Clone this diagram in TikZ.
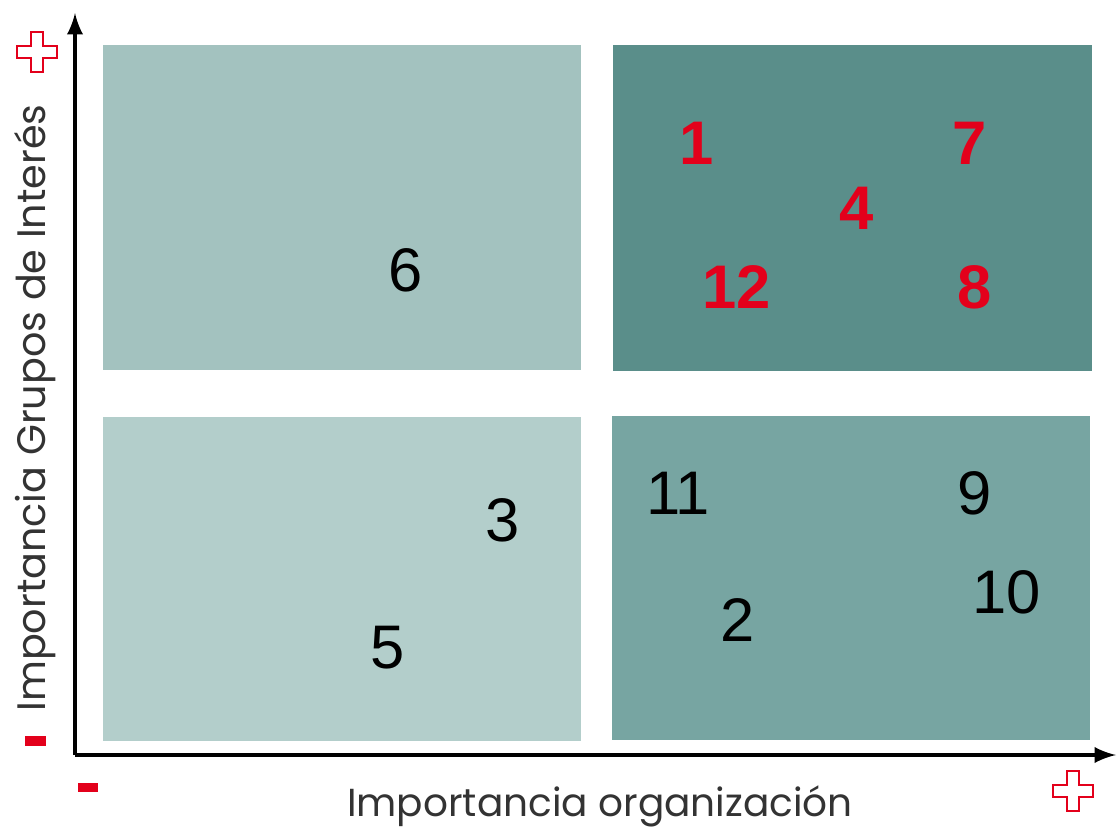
\documentclass[tikz,border=0pt]{standalone}
\usepackage{fontspec}
\setmainfont{Liberation Sans}
\newfontfamily\labelfont{Poppins}
\definecolor{quadA}{HTML}{A3C2BF}
\definecolor{quadB}{HTML}{5A8E8A}
\definecolor{quadC}{HTML}{B3CECB}
\definecolor{quadD}{HTML}{77A5A2}
\definecolor{hired}{HTML}{E3001B}
\begin{document}
\begin{tikzpicture}[x=0.01cm, y=-0.01cm,
    num/.style={font=\fontsize{17.5}{20}\selectfont, text=black},
    rednum/.style={font=\fontsize{17.5}{20}\selectfont\bfseries, text=hired},
    axislabel/.style={font=\labelfont\fontsize{11.1}{13}\selectfont, text=black!80},
    plussign/.style={draw=hired, fill=white, line width=0.8pt},
    minussign/.style={fill=hired, draw=none}]

            \useasboundingbox (0,0) rectangle (1117,833);

            % quadrants
            \fill[quadA] (103,45) rectangle (581,370);
            \fill[quadB] (613,45) rectangle (1092,371);
            \fill[quadC] (103,417) rectangle (581,741);
            \fill[quadD] (612,416) rectangle (1090,740);

            % axes
            \coordinate (o) at (75,755);
            \coordinate (ytip) at (75,13);
            \coordinate (xtip) at (1116,755);
            \draw[black, line width=1.1pt, -latex] (o) -- (ytip);
            \draw[black, line width=1.1pt, -latex] (o) -- (xtip);

            % top right
            \node[rednum] (n1) at (697,143) {1};
            \node[rednum] (n7) at (970,143) {7};
            \node[rednum] (n4) at (857,208) {4};
            \node[rednum] (n12) at (737,287) {12};
            \node[rednum] (n8) at (975,287) {8};

            % other quadrants
            \node[num] (n6) at (406,270) {6};
            \node[num] (n11) at (678,493) {11};
            \node[num] (n9) at (975,493) {9};
            \node[num] (n3) at (503,520) {3};
            \node[num] (n10) at (1007,592) {10};
            \node[num] (n2) at (738,620) {2};
            \node[num] (n5) at (388,648) {5};

            % axis labels
            \node[axislabel] (xlab) at (600,806) {Importancia organización};
            \node[axislabel, rotate=90, font=\labelfont\fontsize{11.3}{13}\selectfont] (ylab) at (35,408) {Importancia Grupos de Interés};

            % signs
            \draw[plussign, shift={(37,52)}] (-6,-20) -- (6,-20) -- (6,-6) -- (20,-6) -- (20,6) -- (6,6) -- (6,20) -- (-6,20) -- (-6,6) -- (-20,6) -- (-20,-6) -- (-6,-6) -- cycle;
            \draw[plussign, shift={(1073,791)}] (-6,-20) -- (6,-20) -- (6,-6) -- (20,-6) -- (20,6) -- (6,6) -- (6,20) -- (-6,20) -- (-6,6) -- (-20,6) -- (-20,-6) -- (-6,-6) -- cycle;
            \fill[minussign] (25,736) rectangle (46,746);
            \fill[minussign] (78,783) rectangle (98,792);

        \end{tikzpicture}
\end{document}
